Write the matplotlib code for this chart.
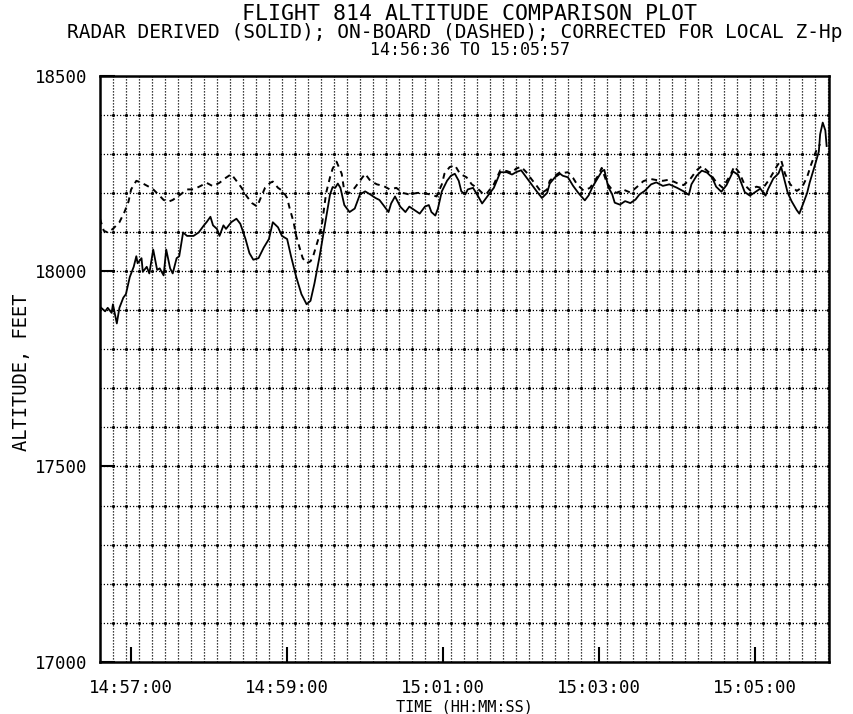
import numpy as np
import matplotlib.pyplot as plt


def secs(hms):
    h, m, s = (int(v) for v in hms.split(':'))
    return h * 3600 + m * 60 + s


START = '14:56:36'
END = '15:05:57'
t0 = secs(START)

TITLE = 'FLIGHT 814 ALTITUDE COMPARISON PLOT'
SUBTITLE = 'RADAR DERIVED (SOLID); ON-BOARD (DASHED); CORRECTED FOR LOCAL Z-Hp'
PERIOD = f'{START} TO {END}'

time_ticks = ['14:57:00', '14:59:00', '15:01:00', '15:03:00', '15:05:00']
alt_ticks = [17000, 17500, 18000, 18500]

# radar derived altitude (solid), time in seconds after 14:56:36
radar_t = [1, 4, 6, 9, 10, 13, 15, 18, 20, 23, 26, 28, 29, 32, 33, 36, 38, 41, 44, 46,
           49, 51, 54, 56, 59, 61, 64, 67, 72, 76, 80, 82, 85, 87, 90, 92, 95, 97, 101, 105,
           108, 112, 115, 118, 122, 126, 130, 133, 137, 140, 144, 147, 151, 155, 159, 162, 165, 169, 173, 177,
           179, 181, 183, 185, 188, 192, 196, 200, 204, 208, 212, 215, 218, 222, 224, 227, 231, 235, 238, 242,
           246, 250, 253, 255, 258, 260, 263, 267, 270, 273, 276, 278, 281, 283, 287, 291, 294, 296, 300, 303,
           308, 313, 317, 320, 324, 328, 332, 336, 340, 344, 346, 350, 354, 356, 360, 364, 368, 373, 376, 379,
           383, 386, 388, 391, 394, 396, 400, 404, 408, 412, 415, 419, 424, 428, 433, 438, 444, 449, 453, 455,
           459, 463, 467, 471, 474, 478, 482, 487, 491, 494, 496, 500, 504, 508, 512, 514, 518, 522, 524, 527,
           529, 532, 536, 538, 541, 544, 546, 550, 553, 554, 556, 558, 559]
radar_alt = [17906, 17897, 17906, 17893, 17915, 17866, 17906, 17932, 17941, 17985, 18011, 18038, 18020, 18033, 17998, 18011, 17994, 18055, 18003, 18007,
             17989, 18055, 18007, 17994, 18033, 18038, 18099, 18090, 18090, 18099, 18117, 18125, 18139, 18117, 18108, 18090, 18117, 18108, 18125, 18134,
             18121, 18082, 18046, 18029, 18033, 18060, 18082, 18125, 18112, 18090, 18082, 18038, 17985, 17941, 17915, 17924, 17968, 18038, 18117, 18196,
             18215, 18213, 18224, 18213, 18169, 18151, 18160, 18196, 18204, 18196, 18187, 18182, 18169, 18151, 18173, 18191, 18165, 18151, 18165, 18156,
             18147, 18165, 18169, 18151, 18142, 18160, 18204, 18231, 18244, 18249, 18231, 18204, 18196, 18209, 18213, 18191, 18173, 18182, 18200, 18213,
             18253, 18253, 18247, 18253, 18258, 18240, 18222, 18204, 18187, 18200, 18224, 18240, 18249, 18244, 18240, 18218, 18200, 18181, 18194, 18216,
             18238, 18255, 18259, 18215, 18197, 18175, 18170, 18179, 18174, 18183, 18196, 18205, 18222, 18227, 18218, 18222, 18213, 18204, 18195, 18222,
             18244, 18257, 18252, 18239, 18216, 18203, 18220, 18255, 18246, 18220, 18202, 18193, 18202, 18211, 18193, 18210, 18237, 18250, 18267, 18228,
             18201, 18179, 18156, 18147, 18173, 18200, 18227, 18271, 18306, 18350, 18380, 18360, 18320]

# on-board altitude (dashed)
onboard_t = [0, 3, 6, 10, 15, 19, 22, 24, 28, 32, 37, 41, 45, 49, 53, 56, 62, 67, 72, 77,
             82, 87, 92, 97, 101, 105, 109, 113, 117, 121, 123, 127, 131, 133, 137, 141, 144, 146, 149, 151,
             154, 156, 159, 162, 164, 168, 171, 174, 177, 179, 182, 186, 188, 192, 196, 200, 204, 208, 213, 218,
             223, 228, 233, 238, 244, 249, 254, 259, 263, 265, 269, 273, 277, 282, 286, 290, 294, 297, 303, 308,
             313, 317, 320, 324, 328, 332, 336, 340, 344, 346, 350, 354, 356, 360, 364, 367, 372, 377, 383, 386,
             390, 394, 397, 403, 408, 413, 418, 423, 428, 433, 438, 444, 449, 454, 459, 463, 469, 474, 479, 485,
             488, 492, 496, 500, 505, 510, 515, 521, 524, 527, 531, 536, 540, 544, 547, 551, 554]
onboard_alt = [18134, 18103, 18099, 18108, 18125, 18152, 18178, 18209, 18231, 18226, 18217, 18209, 18196, 18182, 18178, 18182, 18196, 18209, 18209, 18217,
               18226, 18217, 18226, 18239, 18248, 18231, 18213, 18191, 18174, 18165, 18182, 18213, 18226, 18229, 18213, 18204, 18187, 18160, 18125, 18090,
               18055, 18033, 18020, 18025, 18038, 18082, 18125, 18200, 18240, 18262, 18280, 18249, 18204, 18200, 18213, 18231, 18249, 18231, 18222, 18218,
               18209, 18213, 18200, 18196, 18200, 18200, 18196, 18191, 18222, 18249, 18266, 18271, 18249, 18240, 18222, 18213, 18200, 18196, 18222, 18258,
               18256, 18251, 18262, 18267, 18253, 18235, 18218, 18200, 18209, 18231, 18244, 18253, 18251, 18253, 18238, 18222, 18206, 18213, 18243, 18264,
               18225, 18208, 18200, 18208, 18201, 18215, 18230, 18236, 18233, 18231, 18234, 18225, 18220, 18235, 18258, 18269, 18251, 18228, 18213, 18246,
               18268, 18251, 18220, 18207, 18216, 18212, 18235, 18270, 18284, 18249, 18222, 18205, 18214, 18241, 18272, 18308, 18325]

mono = 'DejaVu Sans Mono'
span = secs(END) - t0

fig = plt.figure(figsize=(8.54, 7.14), dpi=100)
ax = fig.add_axes([0.117, 0.073, 0.854, 0.821])

# dotted plotter grid: every 10 s and every 100 ft
gx = np.arange(10, span, 10)
gy = np.arange(17100, 18500, 100)
for x in gx:
    ax.axvline(x, color='black', lw=0.9, ls=(0, (1, 1.4)), zorder=1)
for y in gy:
    ax.axhline(y, color='black', lw=0.9, ls=(0, (1, 1.6)), zorder=1)
X, Y = np.meshgrid(gx, gy)
ax.plot(X.ravel(), Y.ravel(), 'k.', ms=2.5, zorder=1)

ax.plot(radar_t, radar_alt, color='black', lw=1.3, zorder=3)
ax.plot(onboard_t, onboard_alt, color='black', lw=1.4, ls=(0, (3, 2.5)), zorder=3)

ax.set_xlim(0, span)
ax.set_ylim(alt_ticks[0], alt_ticks[-1])
ax.set_xticks([secs(s) - t0 for s in time_ticks])
ax.set_xticklabels(time_ticks, family=mono, fontsize=12.5)
ax.set_yticks(alt_ticks)
ax.set_yticklabels([str(v) for v in alt_ticks], family=mono, fontsize=12.5)
ax.tick_params(axis='x', direction='in', length=11, width=1.5, pad=12)
ax.tick_params(axis='y', direction='in', length=11, width=1.5, pad=9)
for sp in ax.spines.values():
    sp.set_linewidth(1.8)

ax.set_xlabel('TIME (HH:MM:SS)', family=mono, fontsize=11, labelpad=2)
fig.text(0.025, 0.478, 'ALTITUDE, FEET', family=mono, fontsize=13.5,
         rotation=90, ha='center', va='center')

fig.text(0.55, 0.981, TITLE, family=mono, fontsize=15.5, ha='center', va='center')
fig.text(0.533, 0.954, SUBTITLE, family=mono, fontsize=14, ha='center', va='center')
fig.text(0.55, 0.930, PERIOD, family=mono, fontsize=12, ha='center', va='center')

fig.savefig('out.png', dpi=100)
